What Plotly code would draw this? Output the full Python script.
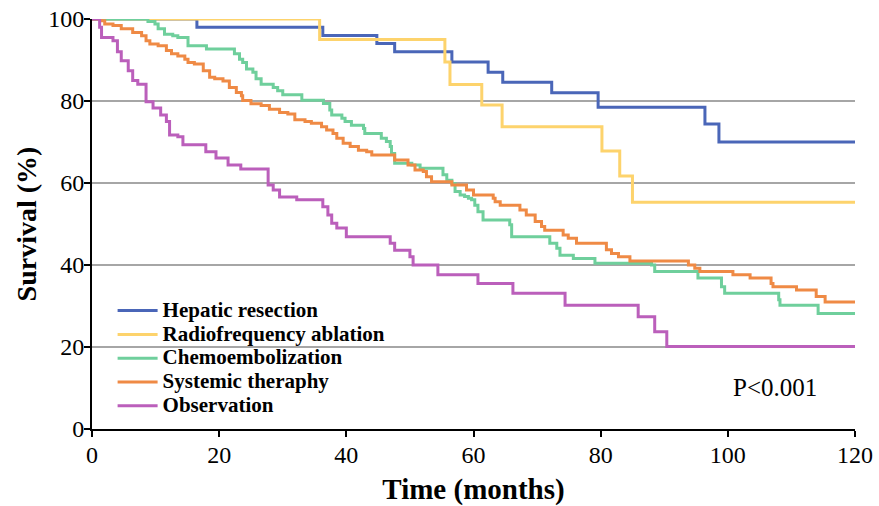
import plotly.graph_objects as go

# Hepatic resection
hr_t = [0, 16.5, 36.3, 44.8, 47.6, 56.6, 62.3, 64.6, 72.3, 79.6, 96.4, 98.6, 120]
hr_s = [100, 98, 96, 94, 92, 89.5, 87, 84.6, 82, 78.5, 74.4, 70, 70]

# Radiofrequency ablation
rfa_t = [0, 35.8, 55.5, 56.3, 61.3, 64.5, 80.2, 83, 85, 120]
rfa_s = [100, 95, 89.5, 84, 79, 73.7, 67.8, 61.7, 55.3, 55.3]

# Chemoembolization
ce_t = [0, 8.8, 9.9, 10.4, 11.4, 12.7, 13.5, 15.1, 18, 22.4, 23.2, 23.7, 24.3, 25.3, 25.8, 26.6,
        28.5, 29.2, 30, 33, 36.4, 37.4, 37.7, 39.3, 39.8, 40.8, 42.7, 42.9, 45.5, 46.3, 46.9, 47.1,
        47.6, 50.3, 51.6, 55.2, 55.8, 56.6, 57.1, 57.9, 58.6, 59.2, 59.7, 60.2, 60.7, 61.5, 65.7,
        66, 72, 73.1, 73.6, 75.7, 79.1, 88, 88.5, 95.3, 99, 99.5, 108, 108.2, 114.2, 120]
ce_s = [100, 99.4, 98.8, 97.6, 96.3, 95.9, 95.5, 93.5, 92.7, 91.5, 90.2, 89.4, 87.8, 87, 85.4, 84.1,
        83.3, 82.5, 81.5, 80.2, 79.4, 77.8, 76.6, 75.8, 75, 74.1, 73.3, 72.1, 70.9, 70.1, 68.9, 67.2,
        64.8, 64.4, 63.6, 62, 60.7, 59.9, 57.9, 57.1, 56.7, 56.3, 55.9, 54.6, 53, 51, 49.8,
        46.9, 45.3, 44.1, 42.4, 41.6, 40.4, 40, 38.4, 36.8, 34.7, 33.1, 31.5, 30.2, 28.2, 28.2]

# Systemic theraphy
st_t = [0, 1.5, 2, 3.3, 4.6, 6.4, 7.8, 8.5, 9.1, 10.4, 11.7, 12.5, 13.5, 14.6, 15.1, 16.1, 17.5,
        18.5, 19.3, 20.6, 21.6, 22.7, 23.5, 23.7, 25, 26.6, 27.9, 29.5, 30.8, 31.9, 33.5, 34.5,
        36.1, 36.9, 37.9, 38.5, 39.5, 40.6, 41.9, 43.2, 44, 47.6, 49.7, 50.8, 52.1, 52.6, 53.4,
        56.6, 58.9, 60, 63.1, 63.4, 64.2, 67.3, 68.3, 69.7, 70.7, 71.2, 74.1, 74.9, 76.2, 80.9,
        81.7, 82.8, 84.6, 93.8, 94.8, 95.6, 100.8, 103.5, 106.8, 107.1, 110.8, 113.9, 115.3, 120]
st_s = [100, 99.6, 98.8, 98.4, 97.6, 96.7, 95.9, 94.7, 93.9, 93.5, 92.3, 91.5, 91, 90.2, 89.4, 89, 87.4,
        85.8, 85.4, 84.9, 83.3, 82.1, 81.3, 80.1, 79.3, 78.9, 78, 77.2, 76.8, 75.4, 75, 74.6,
        73.7, 72.9, 72.1, 70.9, 69.7, 68.9, 68, 67.6, 66.8, 65.6, 64.4, 63.2, 62.8, 61.5, 60.3,
        59.5, 58.3, 57.1, 56.3, 55.4, 54.6, 53.4, 52.2, 50.6, 49.4, 48.5, 47.3, 46.5, 45.3, 43.7,
        42.8, 42, 41, 40, 39.2, 38.4, 37.6, 36.8, 35.5, 34.7, 33.9, 32.3, 31, 31]

# Observation
ob_t = [0, 1.2, 1.5, 3.3, 4, 4.6, 5.7, 6.4, 7.2, 8.5, 9.6, 10.8, 11.7, 12.2, 13.5, 14.3, 17.9, 19.5,
        21.4, 23.4, 27.7, 28.5, 29.5, 32.2, 36.3, 37.1, 37.7, 38.5, 40, 46.9, 47.6, 50, 50.5, 54.4,
        60.7, 66.2, 74.4, 85.9, 88.5, 90.4, 120]
ob_s = [100, 98, 95.5, 94.7, 92, 89.8, 87.4, 85, 84.1, 79.8, 78.3, 76.6, 75, 71.7, 71.3, 69.3, 67.6, 66.1,
        64.4, 63.4, 59.5, 58.3, 56.6, 55.9, 54.2, 52.2, 50.2, 49, 46.9, 45.3, 43.6, 42, 40, 37.6,
        35.5, 33.1, 30.2, 27.4, 23.7, 20.1, 20.1]

names = ["Hepatic resection", "Radiofrequency ablation", "Chemoembolization",
         "Systemic theraphy", "Observation"]
colors = ["#4a66b8", "#fdd36c", "#6fcf9c", "#ef8a45", "#bb5fbb"]
series = [(hr_t, hr_s), (rfa_t, rfa_s), (ce_t, ce_s), (st_t, st_s), (ob_t, ob_s)]

x_ticks = [0, 20, 40, 60, 80, 100, 120]
y_ticks = [0, 20, 40, 60, 80, 100]

FONT = "Liberation Serif, Times New Roman, serif"

fig = go.Figure()
for (t, s), n, c in zip(series, names, colors):
    fig.add_trace(go.Scatter(
        x=t, y=s, mode="lines",
        name='<span style="font-size:21px;font-weight:bold">' + n + '</span>',
        line=dict(color=c, width=3, shape="hv")))

fig.update_layout(
    width=879, height=506,
    margin=dict(l=92, r=24, t=19, b=77),
    plot_bgcolor="white", paper_bgcolor="white",
    font=dict(family=FONT, color="black", size=20),
    showlegend=True,
    legend=dict(x=0.027, y=0.33, xanchor="left", yanchor="top",
                bgcolor="rgba(0,0,0,0)", font=dict(family=FONT, size=16, color="black"),
                tracegroupgap=0, itemwidth=40),
    annotations=[dict(x=0.895, y=0.102, xref="paper", yref="paper", text="P<0.001",
                      xanchor="center", yanchor="middle",
                      showarrow=False, font=dict(family=FONT, size=25, color="black"))],
)
fig.update_xaxes(range=[0, 120], tickvals=x_ticks, showgrid=False, zeroline=False,
                 automargin=False, ticklabelstandoff=-3,
                 showline=True, linecolor="black", linewidth=2, ticks="outside",
                 ticklen=6, tickwidth=2, tickcolor="black",
                 title=dict(text="<b>Time (months)</b>", font=dict(size=29, family=FONT), standoff=12),
                 tickfont=dict(size=24, family=FONT))
fig.update_yaxes(range=[0, 100], tickvals=y_ticks, showgrid=True, gridcolor="#a6a6a6", gridwidth=2,
                 automargin=False, ticklabelstandoff=-5,
                 zeroline=False, showline=True, linecolor="black", linewidth=2, ticks="outside",
                 ticklen=6, tickwidth=2, tickcolor="black",
                 title=dict(text="<b>Survival (%)</b>", font=dict(size=28, family=FONT), standoff=3),
                 tickfont=dict(size=24, family=FONT))

fig.write_html("out.html", config={"displayModeBar": False},
               post_script="document.body.style.margin='0';")
